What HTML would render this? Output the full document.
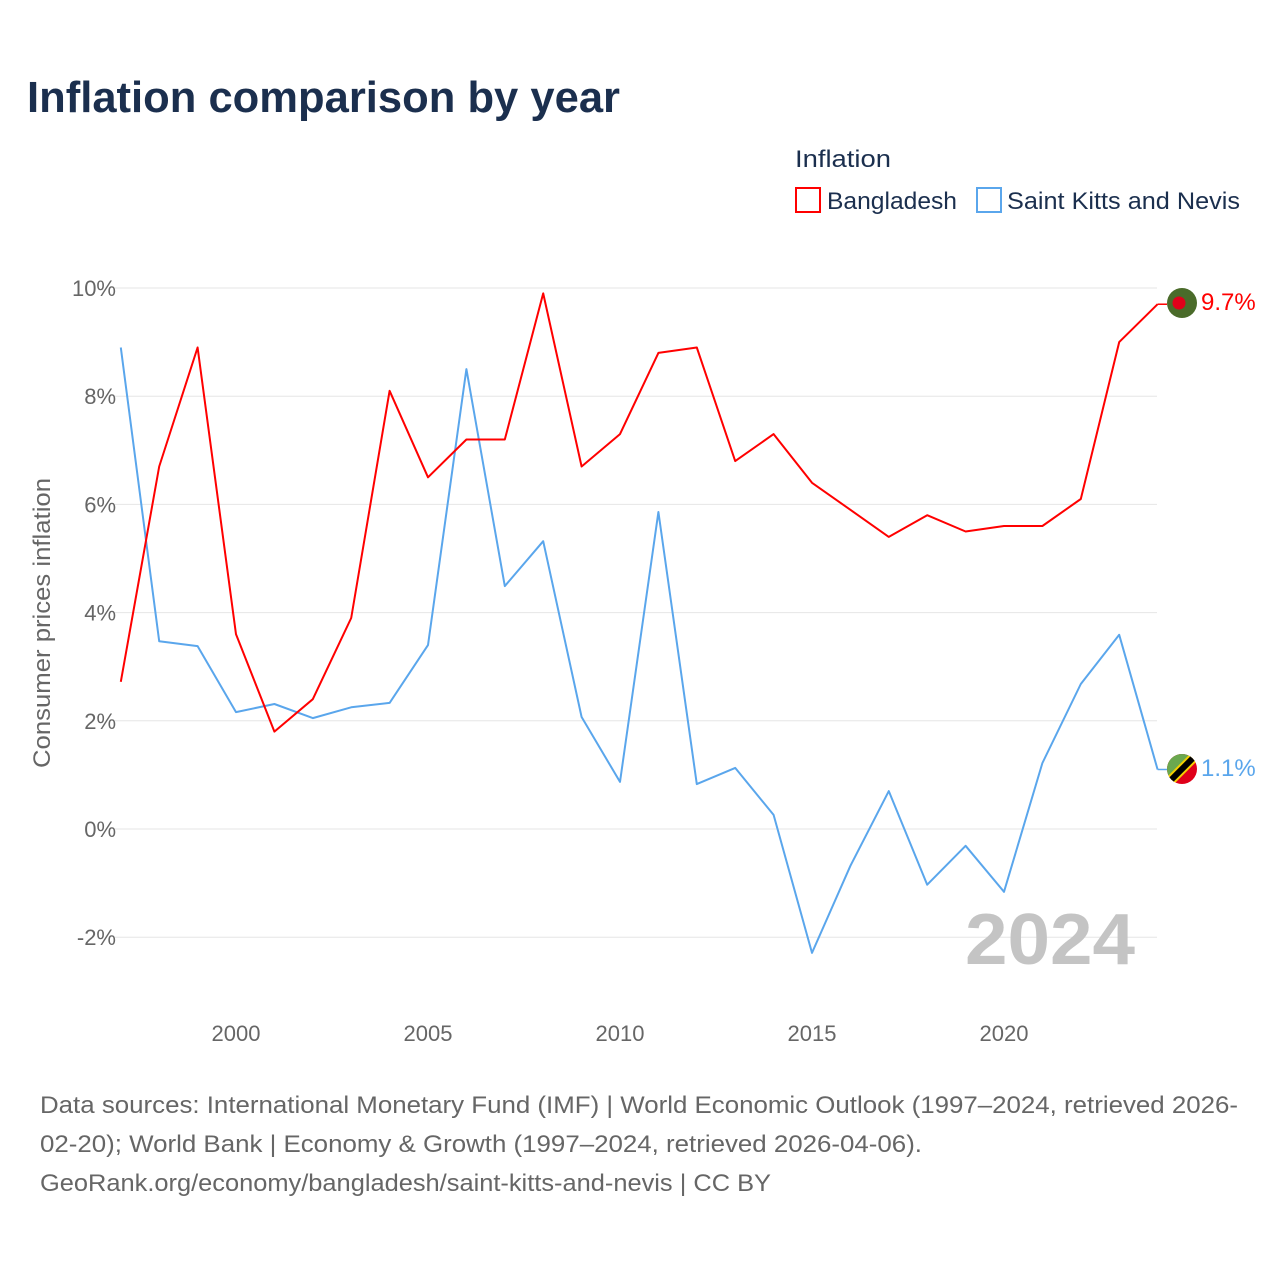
<!DOCTYPE html>
<html><head><meta charset="utf-8"><style>
body{margin:0;background:#fff;width:1280px;height:1280px;overflow:hidden;font-family:"Liberation Sans",sans-serif}
</style></head><body>
<svg width="1280" height="1280" xmlns="http://www.w3.org/2000/svg" font-family="Liberation Sans, sans-serif">
<text x="27" y="112" font-size="44" font-weight="bold" fill="#1b2f4e" textLength="593" lengthAdjust="spacingAndGlyphs">Inflation comparison by year</text>
<text x="795" y="167" font-size="24" fill="#1b2f4e" textLength="96" lengthAdjust="spacingAndGlyphs">Inflation</text>
<g><rect x="796" y="188" width="24" height="24" fill="none" stroke="#ff0000" stroke-width="2"/><text x="827" y="209" font-size="24" fill="#1b2f4e" textLength="130" lengthAdjust="spacingAndGlyphs">Bangladesh</text></g>
<g><rect x="977" y="188" width="24" height="24" fill="none" stroke="#5aa6ec" stroke-width="2"/><text x="1007" y="209" font-size="24" fill="#1b2f4e" textLength="233" lengthAdjust="spacingAndGlyphs">Saint Kitts and Nevis</text></g>
<g id="grid"></g>
<g id="yticks"></g>
<g id="xticks"></g>
<text transform="translate(50,623) rotate(-90)" text-anchor="middle" font-size="24" fill="#666" textLength="290" lengthAdjust="spacingAndGlyphs">Consumer prices inflation</text>
<text x="1135" y="964" text-anchor="end" font-size="72" font-weight="bold" fill="#c4c4c4" textLength="170" lengthAdjust="spacingAndGlyphs">2024</text>
<g id="series"></g>
<g><circle cx="1182" cy="303" r="15" fill="#4a6b2a"/><circle cx="1179" cy="303" r="6.5" fill="#e0001a"/></g>
<g>
<clipPath id="fc"><circle cx="1182" cy="769" r="15"/></clipPath>
<g clip-path="url(#fc)"><rect x="1167" y="754" width="30" height="30" fill="#e0001a"/><polygon points="1167,754 1197,754 1167,784" fill="#6aa84f"/><line x1="1197" y1="754" x2="1167" y2="784" stroke="#f5d000" stroke-width="10"/><line x1="1197" y1="754" x2="1167" y2="784" stroke="#000" stroke-width="6"/></g></g>
<text x="1201" y="310" font-size="24" fill="#ff0000">9.7%</text>
<text x="1201" y="776" font-size="24" fill="#5aa6ec">1.1%</text>
<g font-size="24" fill="#666">
<text x="40" y="1113" textLength="1198" lengthAdjust="spacingAndGlyphs">Data sources: International Monetary Fund (IMF) | World Economic Outlook (1997–2024, retrieved 2026-</text>
<text x="40" y="1152" textLength="882" lengthAdjust="spacingAndGlyphs">02-20); World Bank | Economy &amp; Growth (1997–2024, retrieved 2026-04-06).</text>
<text x="40" y="1191" textLength="731" lengthAdjust="spacingAndGlyphs">GeoRank.org/economy/bangladesh/saint-kitts-and-nevis | CC BY</text>
</g>
</svg>
<script>
const years=[1997,1998,1999,2000,2001,2002,2003,2004,2005,2006,2007,2008,2009,2010,2011,2012,2013,2014,2015,2016,2017,2018,2019,2020,2021,2022,2023,2024];
const bangladesh=[2.72,6.7,8.9,3.6,1.8,2.4,3.9,8.1,6.5,7.2,7.2,9.9,6.7,7.3,8.8,8.9,6.8,7.3,6.4,5.9,5.4,5.8,5.5,5.6,5.6,6.1,9.0,9.7];
const saintKitts=[8.9,3.47,3.38,2.16,2.31,2.05,2.25,2.33,3.4,8.5,4.49,5.32,2.07,0.87,5.86,0.83,1.13,0.26,-2.29,-0.68,0.7,-1.03,-0.31,-1.16,1.22,2.68,3.59,1.1];
const yTicks=[-2,0,2,4,6,8,10];
const xTicks=[2000,2005,2010,2015,2020];
const NS='http://www.w3.org/2000/svg';
const X=y=>120.8+(y-1997)*38.4;
const Y=v=>829-v*54.1;
function mk(t,a,p){const e=document.createElementNS(NS,t);for(const k in a)e.setAttribute(k,a[k]);p.appendChild(e);return e;}
const grid=document.getElementById('grid'),yt=document.getElementById('yticks'),xt=document.getElementById('xticks'),ser=document.getElementById('series');
yTicks.forEach(v=>{
 const l=mk('line',{x1:115,x2:1157,y1:Y(v),y2:Y(v),stroke:'#e6e6e6','stroke-width':1},grid);
 
 
 const t=mk('text',{x:116,y:Y(v)+8,'text-anchor':'end','font-size':22,fill:'#666'},yt);
 t.textContent=v+'%';
 
 
});
xTicks.forEach(v=>{
 const t=mk('text',{x:X(v),y:1041,'text-anchor':'middle','font-size':22,fill:'#666'},xt);
 t.textContent=v;
 
 
});
function line(vals,color,name){
 const d=vals.map((v,i)=>(i?'L':'M')+X(years[i]).toFixed(1)+','+Y(v).toFixed(1)).join(' ');
 const p=mk('path',{d:d,fill:'none',stroke:color,'stroke-width':2,'stroke-linejoin':'round'},ser);
 
 
 const last=vals[vals.length-1];
 mk('line',{x1:X(2024),x2:1167,y1:Y(last),y2:Y(last),stroke:color,'stroke-width':1.5},ser);
}
line(saintKitts,'#5aa6ec','series-line-saint-kitts');
line(bangladesh,'#ff0000','series-line-bangladesh');
</script>
</body></html>
